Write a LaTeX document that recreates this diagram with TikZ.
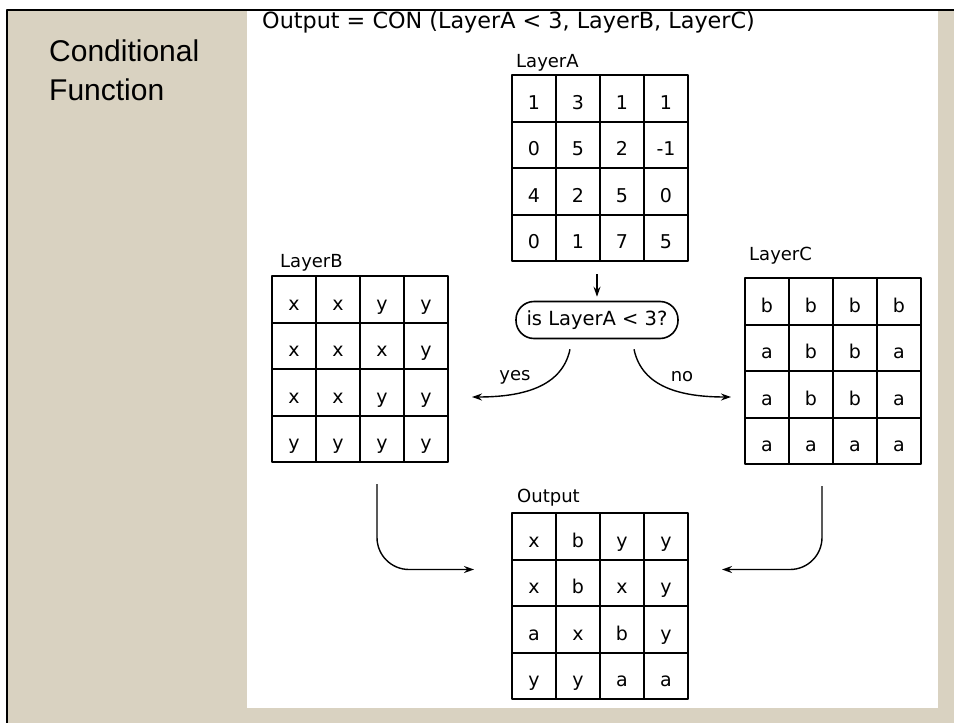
\documentclass[tikz,border=0pt]{standalone}
\usepackage{fontspec}
\setmainfont{DejaVu Sans}
\newfontfamily\slidefont{Liberation Sans}
\usepackage{tikz}
\usetikzlibrary{calc,arrows.meta}

\definecolor{parchment}{RGB}{217,210,193}

% one 4x4 layer: name, top left corner, 16 values row by row
\newcommand{\layergrid}[3]{%
  \foreach \v [count=\k from 0] in {#3} {
    \pgfmathtruncatemacro{\lrow}{floor(\k/4)}
    \pgfmathtruncatemacro{\lcol}{mod(\k,4)}
    \node[cell] (#1-\lrow-\lcol) at ($(#2)+(\lcol*44+22,\lrow*46.5+23.25)$) {\v};
  }%
}

\begin{document}
\begin{tikzpicture}[x=1pt, y=-1pt, line join=round,
    cell/.style={draw, line width=2pt, minimum width=44pt, minimum height=46.5pt,
      inner sep=0pt, text height=27pt, text depth=5pt, font=\fontsize{19}{19}\selectfont},
    lbl/.style={inner sep=0pt, font=\fontsize{18}{18}\selectfont},
    decision/.style={draw, line width=1.6pt, rounded corners=18pt, minimum width=162pt,
      minimum height=37pt, inner sep=0pt, font=\fontsize{19.5}{19.5}\selectfont},
    arr/.style={line width=1.4pt, -{Stealth[length=10pt,width=7pt]}}]

        \useasboundingbox (0,0) rectangle (954,723);

        % Slide background and frame
        \fill[white] (0,0) rectangle (954,723);
        \fill[parchment] (8,11) rectangle (954,723);
        \draw[line width=2pt] (7,723) |- (954,10);
        \fill[white] (247,11) rectangle (938,708);

        % Heading and formula
        \node[anchor=base west, inner sep=0pt, align=left, font=\slidefont\fontsize{30}{39}\selectfont]
          (heading) at (49,100) {Conditional\\Function};
        \node[anchor=base west, inner sep=0pt, font=\fontsize{22.3}{22.3}\selectfont]
          (title) at (262,28) {Output = CON (LayerA < 3, LayerB, LayerC)};

        % Corners of the four layers
        \coordinate (A0) at (512,75);
        \coordinate (B0) at (272,276);
        \coordinate (C0) at (745,278);
        \coordinate (O0) at (512,513);

        % Layers
        \layergrid{A}{A0}{1,3,1,1, 0,5,2,-1, 4,2,5,0, 0,1,7,5}
        \layergrid{B}{B0}{x,x,y,y, x,x,x,y, x,x,y,y, y,y,y,y}
        \layergrid{C}{C0}{b,b,b,b, a,b,b,a, a,b,b,a, a,a,a,a}
        \layergrid{O}{O0}{x,b,y,y, x,b,x,y, a,x,b,y, y,y,a,a}

        % Layer names
        \node[lbl, anchor=base west] (labA) at ($(A0)+(4,-8)$) {LayerA};
        \node[lbl, anchor=base west] (labB) at ($(B0)+(8,-9)$) {LayerB};
        \node[lbl, anchor=base west] (labC) at ($(C0)+(4,-18)$) {LayerC};
        \node[lbl, anchor=base west] (labO) at ($(O0)+(5,-11)$) {Output};

        % Test
        \node[decision] (test) at (597,320) {is LayerA < 3?};
        \draw[arr, shorten <=12pt, shorten >=4pt] (A-3-1.south east -| test.north) -- (test.north);

        % Branches
        \coordinate (yesstart) at ($(test.south)+(-27,10)$);
        \coordinate (yesend) at ($(B-1-3.south east)+(23,27)$);
        \coordinate (nostart) at ($(test.south)+(37,10)$);
        \coordinate (noend) at ($(C-1-0.south west)+(-13,25)$);
        \draw[arr] (yesstart) .. controls +(-8,38) and +(50,0) .. (yesend);
        \draw[arr] (nostart) .. controls +(8,38) and +(-50,0) .. (noend);
        \node[lbl] (yes) at (515,377) {yes};
        \node[lbl] (no) at (682,377) {no};

        % Into the output
        \coordinate (bdown) at ($(B-3-1.south east)+(16,21)$);
        \coordinate (bin) at ($(O-1-0.north west)+(-37,11)$);
        \coordinate (cdown) at ($(C-3-1.south east)+(-12,21)$);
        \coordinate (cin) at ($(O-1-3.north east)+(33,11)$);
        \draw[arr, rounded corners=32pt] (bdown) |- (bin);
        \draw[arr, rounded corners=32pt] (cdown) |- (cin);

      \end{tikzpicture}
\end{document}
